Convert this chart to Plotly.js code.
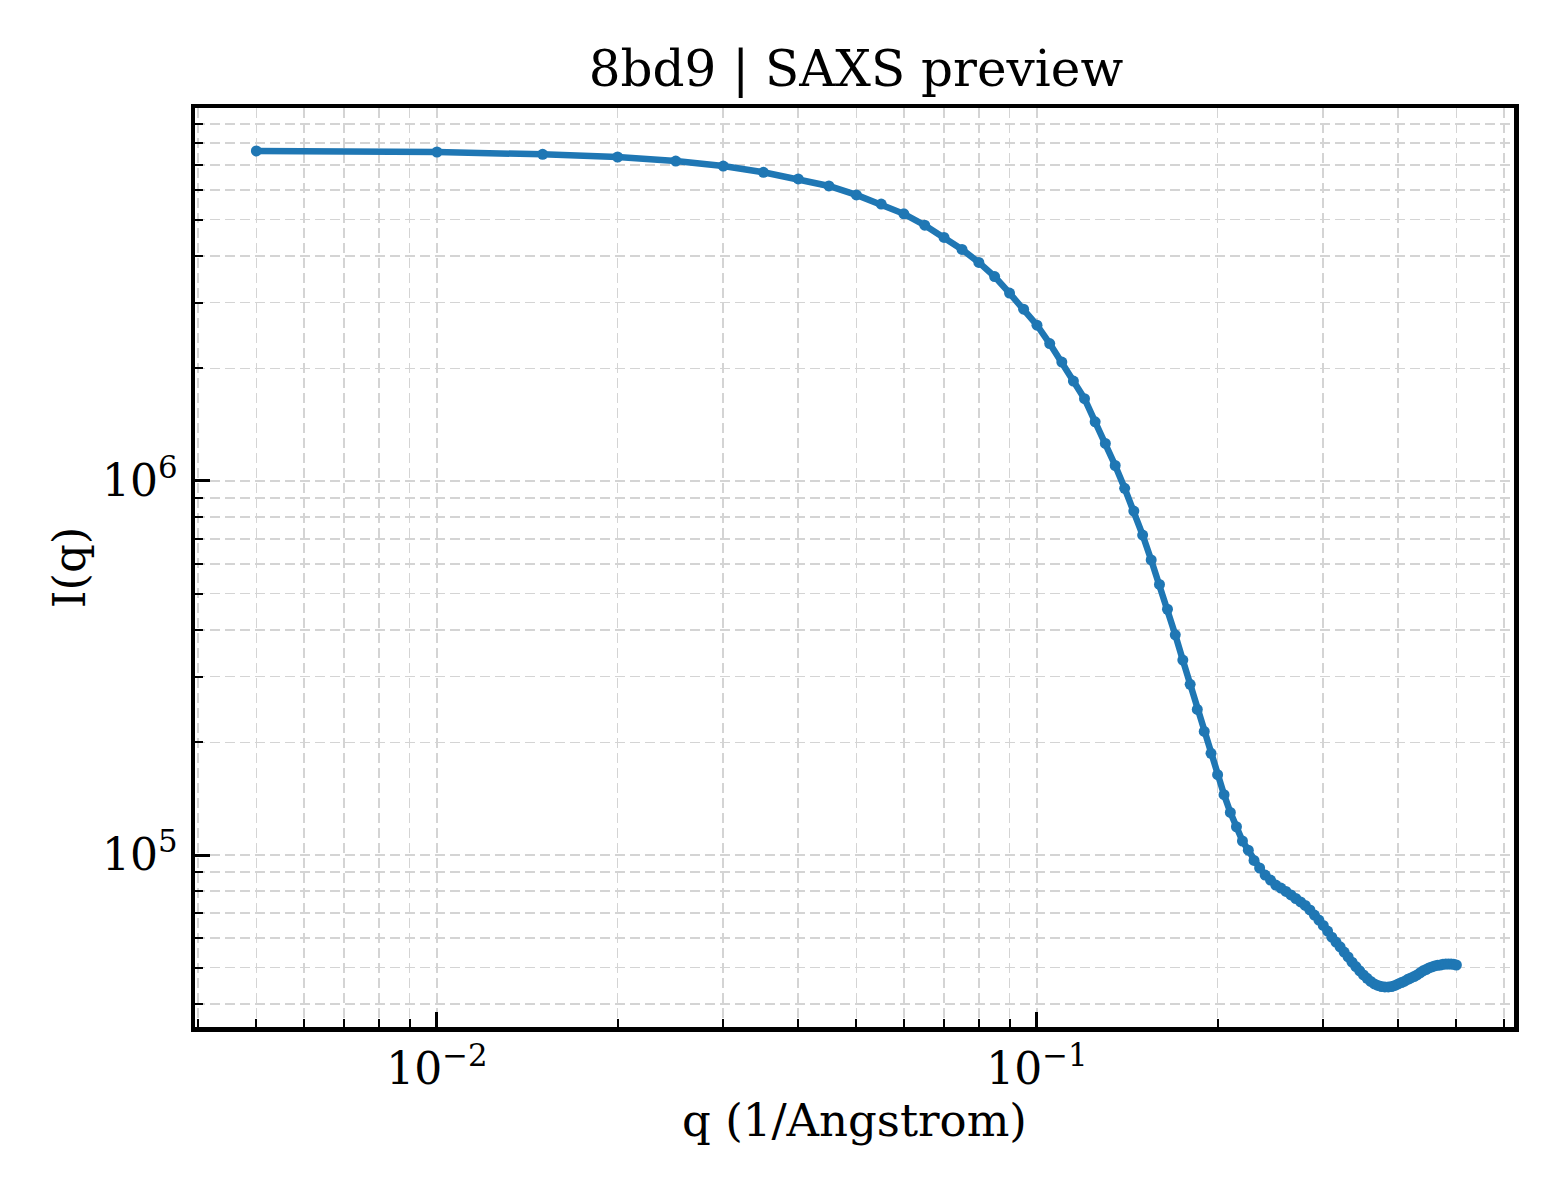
<!DOCTYPE html>
<html>
<head>
<meta charset="utf-8">
<script src="https://cdn.plot.ly/plotly-3.0.1.min.js"></script>
<style>
  body { margin: 0; background: #ffffff; }
  #plot { width: 1560px; height: 1200px; }
</style>
</head>
<body>
<div id="plot"></div>
<script>

// Scattering vector q (1/Angstrom)
let q = [
  0.005, 0.010, 0.015, 0.020, 0.025, 0.030, 0.035, 0.040, 0.045, 0.050,
  0.055, 0.060, 0.065, 0.070, 0.075, 0.080, 0.085, 0.090, 0.095, 0.100,
  0.105, 0.110, 0.115, 0.120, 0.125, 0.130, 0.135, 0.140, 0.145, 0.150,
  0.155, 0.160, 0.165, 0.170, 0.175, 0.180, 0.185, 0.190, 0.195, 0.200,
  0.205, 0.210, 0.215, 0.220, 0.225, 0.230, 0.235, 0.240, 0.245, 0.250,
  0.255, 0.260, 0.265, 0.270, 0.275, 0.280, 0.285, 0.290, 0.295, 0.300,
  0.305, 0.310, 0.315, 0.320, 0.325, 0.330, 0.335, 0.340, 0.345, 0.350,
  0.355, 0.360, 0.365, 0.370, 0.375, 0.380, 0.385, 0.390, 0.395, 0.400,
  0.405, 0.410, 0.415, 0.420, 0.425, 0.430, 0.435, 0.440, 0.445, 0.450,
  0.455, 0.460, 0.465, 0.470, 0.475, 0.480, 0.485, 0.490, 0.495, 0.500
];

// Intensity I(q)
let intensity = [
  7.63e6, 7.58e6, 7.47e6, 7.35e6, 7.17e6, 6.95e6, 6.69e6, 6.42e6, 6.15e6, 5.82e6,
  5.50e6, 5.18e6, 4.83e6, 4.48e6, 4.16e6, 3.84e6, 3.52e6, 3.18e6, 2.88e6, 2.61e6,
  2.33e6, 2.08e6, 1.85e6, 1.66e6, 1.44e6, 1.26e6, 1.10e6, 9.56e5, 8.31e5, 7.17e5,
  6.15e5, 5.29e5, 4.54e5, 3.88e5, 3.32e5, 2.86e5, 2.45e5, 2.14e5, 1.87e5, 1.64e5,
  1.45e5, 1.30e5, 1.19e5, 1.09e5, 1.03e5, 9.67e4, 9.23e4, 8.84e4, 8.57e4, 8.31e4,
  8.16e4, 7.99e4, 7.82e4, 7.65e4, 7.49e4, 7.33e4, 7.13e4, 6.91e4, 6.70e4, 6.48e4,
  6.26e4, 6.03e4, 5.85e4, 5.68e4, 5.50e4, 5.34e4, 5.17e4, 5.03e4, 4.90e4, 4.78e4,
  4.68e4, 4.59e4, 4.52e4, 4.48e4, 4.45e4, 4.44e4, 4.44e4, 4.45e4, 4.48e4, 4.52e4,
  4.56e4, 4.60e4, 4.65e4, 4.69e4, 4.73e4, 4.78e4, 4.84e4, 4.90e4, 4.94e4, 4.99e4,
  5.02e4, 5.05e4, 5.07e4, 5.08e4, 5.10e4, 5.11e4, 5.11e4, 5.11e4, 5.10e4, 5.08e4
];

// Tick positions and labels
let x_major = [0.01, 0.1];
let x_major_labels = ["10<sup>\u22122</sup>", "10<sup>\u22121</sup>"];
let x_minor = [0.004, 0.005, 0.006, 0.007, 0.008, 0.009,
               0.02, 0.03, 0.04, 0.05, 0.06, 0.07, 0.08, 0.09,
               0.2, 0.3, 0.4, 0.5, 0.6];
let y_major = [1e5, 1e6];
let y_major_labels = ["10<sup>5</sup>", "10<sup>6</sup>"];
let y_minor = [4e4, 5e4, 6e4, 7e4, 8e4, 9e4,
               2e5, 3e5, 4e5, 5e5, 6e5, 7e5, 8e5, 9e5,
               2e6, 3e6, 4e6, 5e6, 6e6, 7e6, 8e6, 9e6];

let font_family = "DejaVu Serif, Liberation Serif, serif";
let grid_col = "#d4d4d4";

let trace = {
  x: q,
  y: intensity,
  mode: "lines+markers",
  type: "scatter",
  line: {
    color: "#1f77b4",
    width: 6.5
  },
  marker: {
    color: "#1f77b4",
    size: 11
  },
  showlegend: false
};

// Shared axis styling
function axisStyle(tickvals, ticktext, minorvals, range, title_text) {
  return {
    type: "log",
    range: range,
    title: {
      text: title_text,
      font: { family: font_family, size: 45, color: "#000000" }
    },
    tickmode: "array",
    tickvals: tickvals,
    ticktext: ticktext,
    tickfont: { family: font_family, size: 44, color: "#000000" },
    ticks: "inside",
    ticklen: 15,
    tickwidth: 3,
    tickcolor: "#000000",
    ticklabelstandoff: 4,
    showline: true,
    linecolor: "#000000",
    linewidth: 4.5,
    mirror: true,
    showgrid: true,
    gridcolor: grid_col,
    gridwidth: 1.6,
    griddash: "10px,5px",
    zeroline: false,
    automargin: false,
    minor: {
      tickmode: "array",
      tickvals: minorvals,
      ticks: "inside",
      ticklen: 8,
      tickwidth: 2,
      tickcolor: "#000000",
      showgrid: true,
      gridcolor: grid_col,
      gridwidth: 1.6,
      griddash: "10px,5px"
    }
  };
}

let layout = {
  width: 1560,
  height: 1200,
  paper_bgcolor: "#ffffff",
  plot_bgcolor: "#ffffff",
  font: { family: font_family, color: "#000000" },
  title: {
    text: "8bd9 | SAXS preview",
    font: { family: font_family, size: 50, color: "#000000" },
    x: 0.5487,
    xanchor: "center",
    y: 1 - 68 / 1200,
    yanchor: "middle"
  },
  xaxis: axisStyle(x_major, x_major_labels, x_minor, [-2.4033, -0.205], "q (1/Angstrom)"),
  yaxis: axisStyle(y_major, y_major_labels, y_minor, [4.5401, 6.9973], "I(q)"),
  margin: {
    l: 195,
    r: 46,
    t: 108,
    b: 173
  }
};

// Pull tick labels and titles closer to the axes
layout.xaxis.ticklabelstandoff = 0;
layout.xaxis.title.standoff = 12;
layout.yaxis.title.standoff = 4;

Plotly.newPlot("plot", [trace], layout, { displayModeBar: false, staticPlot: true });

</script>
</body>
</html>
